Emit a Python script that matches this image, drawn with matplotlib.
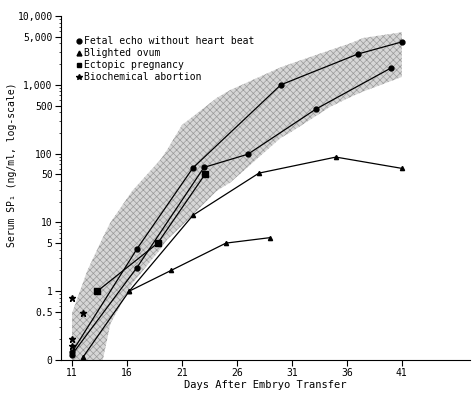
import matplotlib
matplotlib.use("Agg")
import matplotlib.pyplot as plt
from matplotlib.lines import Line2D
from matplotlib.ticker import FixedLocator, LogLocator, NullFormatter

plt.rcParams['font.family'] = ['DejaVu Sans Mono']
plt.rcParams['font.size'] = 7
plt.rcParams['hatch.linewidth'] = 0.5

# serum SP1 per patient (0 plotted at 0.1 on the log axis)
fetal_a_days = [11, 16.9, 22, 30, 37, 41]
fetal_a_vals = [0.13, 4.1, 62, 1000, 2800, 4200]
fetal_b_days = [11, 16.9, 23, 27, 33.2, 40]
fetal_b_vals = [0.12, 2.2, 63, 98, 445, 1750]
blight_a_days = [12, 16.2, 22, 28, 35, 41]
blight_a_vals = [0.11, 1.0, 12.7, 52, 89, 61]
blight_b_days = [16.2, 20, 25, 29]
blight_b_vals = [1.0, 2.0, 5.0, 6.0]
ectopic_days = [13.3, 18.8, 23.1]
ectopic_vals = [1.0, 5.0, 50]
biochem_days = [11, 12, 11, 11]
biochem_vals = [0.79, 0.49, 0.2, 0.16]

# normal range band
band_days = [11, 12.4, 13.8, 14.5, 16.5, 19, 19.6, 21, 24.2, 25.4, 30, 30.8, 34.5, 36.3, 37.5, 41]
band_upper = [0.48, 2, 6, 10, 29, 80, 110, 260, 650, 840, 1800, 2000, 3200, 4000, 4800, 5800]
band_lower = [0.1, 0.1, 0.1, 0.34, 1.3, 4.0, 5.5, 9, 29, 38, 170, 200, 480, 660, 800, 1300]

yticks = [0.1, 0.5, 1, 5, 10, 50, 100, 500, 1000, 5000, 10000]
ylabels = ['0', '0.5', '1', '5', '10', '50', '100', '500', '1,000', '5,000', '10,000']
xticks = [11, 16, 21, 26, 31, 36, 41]

fig = plt.figure(figsize=(4.72, 3.95), dpi=100)
ax = fig.add_axes([61/472, 35/395, 409/472, 344/395])

ax.fill_between(band_days, band_lower, band_upper, facecolor='#d6d6d6',
                edgecolor='#9a9a9a', hatch='xxxxx', linewidth=0, zorder=1)

kw = dict(color='black', linewidth=0.9, zorder=3)
ax.plot(fetal_a_days, fetal_a_vals, marker='o', markersize=3.5, **kw)
ax.plot(fetal_b_days, fetal_b_vals, marker='o', markersize=3.5, **kw)
ax.plot(blight_a_days, blight_a_vals, marker='^', markersize=3, **kw)
ax.plot(blight_b_days, blight_b_vals, marker='^', markersize=3, **kw)
ax.plot(ectopic_days, ectopic_vals, marker='s', markersize=4.5, **kw)
ax.plot(biochem_days, biochem_vals, marker='*', markersize=4.5, linestyle='none',
        color='black', zorder=3)

ax.set_yscale('log')
ax.set_ylim(0.1, 10000)
ax.set_xlim(10, 47.2)
ax.yaxis.set_major_locator(FixedLocator(yticks))
ax.set_yticklabels(ylabels)
ax.yaxis.set_minor_locator(LogLocator(base=10, subs=range(2, 10), numticks=20))
ax.yaxis.set_minor_formatter(NullFormatter())
ax.set_xticks(xticks)
ax.tick_params(axis='both', which='major', length=4, width=0.8, labelsize=7, pad=2)
ax.tick_params(axis='y', which='minor', length=1.5, width=0.5)

for s in ['top', 'right']:
    ax.spines[s].set_visible(False)
ax.spines['left'].set_linewidth(0.8)
ax.spines['bottom'].set_linewidth(0.8)

ax.set_xlabel('Days After Embryo Transfer', fontsize=7.5, labelpad=1)
ax.set_ylabel('Serum SP\u2081 (ng/ml, log-scale)', fontsize=7)
ax.yaxis.set_label_coords(-0.107, 0.567)

handles = [
    Line2D([], [], marker='o', color='black', linestyle='none', markersize=3.5),
    Line2D([], [], marker='^', color='black', linestyle='none', markersize=3.5),
    Line2D([], [], marker='s', color='black', linestyle='none', markersize=3.5),
    Line2D([], [], marker='*', color='black', linestyle='none', markersize=4),
]
names = ['Fetal echo without heart beat', 'Blighted ovum', 'Ectopic pregnancy',
         'Biochemical abortion']
ax.legend(handles, names, loc='upper left', bbox_to_anchor=(0.025, 0.955), frameon=False,
          handlelength=0.6, handletextpad=0.2, borderpad=0, labelspacing=0.2,
          fontsize=7)

plt.savefig('out.png', dpi=100)
